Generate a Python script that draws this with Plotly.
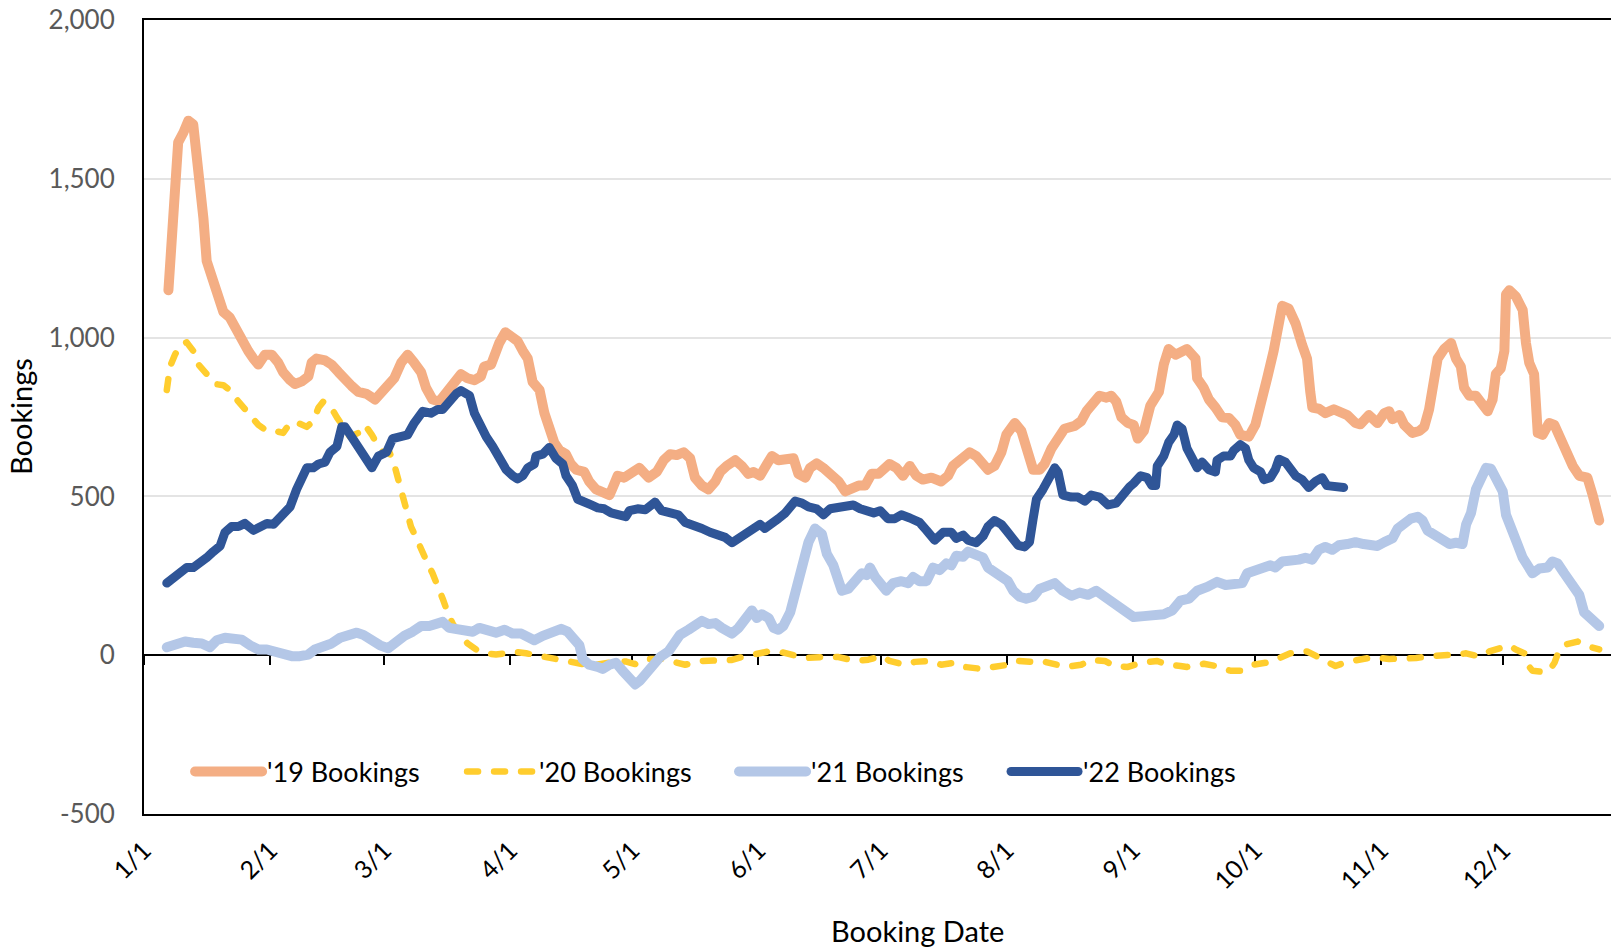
import pandas as pd
import plotly.graph_objects as go

# ---- data (day-of-year offsets from Jan 1) ----
day_19 = [6.0, 6.8, 7.6, 8.4, 9.7, 10.9, 12.1, 13.4, 14.6, 15.4, 16.6, 18.3, 19.5, 21.1, 22.8, 24.4, 25.6, 26.9, 28.1, 29.7,
          31.4, 33.0, 34.2, 35.9, 37.1, 38.8, 40.4, 41.2, 42.4, 44.5, 46.1, 47.8, 49.4, 51.0, 52.7, 54.7, 56.8, 58.0, 59.6, 61.5,
          63.2, 64.8, 66.4, 68.1, 69.3, 70.9, 72.6, 74.2, 76.3, 77.9, 79.5, 81.2, 82.8, 83.6, 85.3, 86.1, 87.3, 88.8, 90.2, 91.8,
          93.1, 94.3, 95.5, 97.2, 98.4, 99.6, 100.8, 102.1, 103.7, 104.9, 106.2, 108.2, 109.4, 111.1, 112.7, 114.4, 115.2, 116.4, 118.0, 119.7,
          121.7, 124.0, 126.0, 127.7, 129.3, 130.9, 132.6, 134.2, 135.4, 137.1, 138.7, 140.4, 141.6, 143.2, 145.3, 146.9, 148.5, 149.8, 151.4, 153.1,
          154.3, 155.9, 157.6, 159.6, 160.8, 162.5, 163.7, 165.3, 166.9, 169.0, 170.7, 172.3, 173.9, 175.6, 177.2, 178.8, 180.5, 183.2, 184.9, 186.5,
          188.2, 189.8, 191.4, 193.5, 195.9, 197.6, 198.8, 200.9, 202.9, 204.5, 205.8, 207.4, 209.0, 210.7, 211.9, 214.0, 215.6, 217.2, 218.5, 220.1,
          221.3, 223.0, 224.6, 226.2, 228.7, 230.3, 231.6, 233.2, 234.8, 236.5, 237.7, 238.9, 240.2, 241.8, 243.2, 244.2, 245.7, 247.3, 249.4, 250.6,
          251.8, 253.5, 255.1, 256.3, 258.4, 258.8, 260.4, 261.7, 263.3, 264.9, 266.6, 268.2, 269.4, 271.5, 273.1, 274.4, 276.0, 277.6, 278.9, 279.7,
          281.3, 283.0, 284.6, 285.8, 286.6, 287.1, 288.7, 290.3, 292.4, 294.0, 295.7, 297.7, 298.9, 301.0, 303.1, 304.8, 306.0, 306.8, 308.5, 309.7,
          311.7, 313.4, 314.6, 315.8, 317.1, 317.9, 319.5, 321.2, 322.4, 323.6, 324.4, 325.7, 327.3, 328.9, 330.2, 331.4, 332.2, 333.4, 334.3, 334.7,
          335.5, 337.1, 338.8, 339.6, 340.4, 341.6, 342.1, 342.5, 343.7, 345.3, 346.6, 348.2, 349.8, 351.1, 352.7, 354.7, 356.0, 357.6]
val_19 = [1149, 1314, 1499, 1615, 1646, 1683, 1671, 1536, 1376, 1241, 1198, 1142, 1081, 1063, 1020, 983, 958, 934, 915, 946,
          946, 921, 891, 866, 854, 862, 878, 921, 934, 928, 915, 891, 866, 848, 829, 823, 805, 823, 835, 872,
          921, 946, 921, 891, 842, 805, 799, 823, 860, 885, 872, 866, 878, 909, 915, 946, 983, 1017, 1001, 989,
          958, 934, 860, 835, 762, 713, 670, 645, 633, 602, 584, 577, 547, 522, 516, 504, 528, 565, 559, 577,
          590, 559, 577, 614, 633, 630, 639, 620, 559, 534, 522, 547, 577, 596, 614, 596, 571, 577, 565, 602,
          627, 614, 620, 620, 571, 559, 590, 604, 590, 571, 547, 516, 526, 534, 534, 571, 571, 602, 590, 565,
          596, 565, 553, 559, 547, 565, 596, 614, 639, 627, 602, 584, 596, 639, 694, 731, 706, 633, 584, 584,
          602, 651, 688, 713, 722, 737, 768, 799, 817, 811, 817, 799, 749, 731, 725, 682, 706, 786, 829, 915,
          964, 946, 952, 964, 934, 872, 842, 805, 780, 749, 747, 725, 694, 688, 725, 780, 872, 958, 1063, 1100,
          1091, 1044, 977, 934, 829, 780, 776, 762, 774, 762, 756, 731, 727, 756, 731, 762, 768, 743, 756, 725,
          700, 706, 719, 774, 885, 934, 964, 983, 934, 909, 842, 817, 817, 792, 768, 805, 885, 903, 958, 1136,
          1149, 1130, 1087, 983, 921, 885, 786, 700, 694, 731, 725, 676, 633, 596, 565, 559, 504, 424]

day_20 = [5.6, 6.4, 7.6, 8.9, 10.5, 12.1, 13.4, 14.6, 15.8, 17.5, 19.5, 21.1, 22.8, 24.4, 26.1, 28.1, 30.2, 32.2, 34.2, 35.9,
          37.9, 40.0, 41.6, 42.9, 44.1, 45.7, 47.4, 49.0, 50.6, 52.7, 54.3, 56.0, 57.6, 59.2, 60.3, 61.5, 62.3, 63.2, 64.4, 65.6,
          66.9, 68.5, 69.7, 70.9, 72.2, 73.4, 74.6, 75.9, 77.5, 79.5, 81.6, 84.1, 86.5, 89.0, 91.4, 93.9, 96.3, 98.8, 101.2, 103.7,
          106.2, 108.6, 111.1, 113.5, 116.8, 118.5, 120.7, 122.5, 124.0, 127.3, 130.5, 133.0, 137.1, 140.4, 144.5, 146.9, 150.2, 153.5, 155.9, 159.2,
          162.5, 166.6, 170.7, 174.8, 178.0, 181.3, 183.2, 186.9, 189.4, 193.1, 195.9, 199.2, 201.7, 205.8, 208.2, 212.3, 214.8, 218.1, 220.5, 224.6,
          226.6, 230.3, 232.8, 236.1, 238.5, 241.8, 244.9, 249.0, 251.4, 254.7, 256.3, 260.4, 263.3, 267.0, 269.4, 272.7, 275.6, 278.5, 281.7, 285.8,
          287.5, 290.7, 292.8, 295.7, 298.9, 302.2, 306.0, 309.3, 312.6, 315.8, 319.1, 322.4, 324.9, 328.1, 330.6, 333.4, 335.5, 337.1, 339.2, 340.0,
          341.2, 343.3, 345.3, 346.6, 347.8, 349.4, 352.3, 355.1, 357.6]
val_20 = [835, 909, 946, 977, 985, 958, 915, 897, 872, 854, 850, 835, 805, 780, 749, 725, 706, 706, 700, 731,
          731, 719, 737, 780, 799, 786, 749, 719, 688, 700, 725, 694, 657, 633, 640, 600, 565, 516, 455, 405,
          369, 319, 289, 258, 221, 178, 135, 98, 68, 37, 18, 6, 2, 6, 10, 6, 0, -6, -12, -18,
          -24, -30, -30, -24, -18, -20, -28, -15, -12, -12, -24, -30, -18, -15, -15, -6, 2, 12, 12, 4,
          -9, -6, -6, -18, -14, -3, -18, -30, -21, -18, -30, -24, -37, -43, -37, -30, -18, -21, -18, -30,
          -37, -30, -15, -18, -34, -37, -24, -18, -30, -34, -37, -27, -34, -49, -49, -30, -24, -12, 6, 12,
          0, -21, -34, -21, -12, -6, -12, -12, -9, -3, -3, 2, 6, -4, 12, 25, 31, 18, 6, -30,
          -49, -52, -49, -24, 18, 34, 43, 27, 18]

day_21 = [5.6, 8.0, 10.1, 12.1, 14.2, 16.2, 17.9, 19.9, 22.0, 24.0, 26.1, 28.1, 30.2, 32.2, 34.2, 36.3, 38.3, 40.4, 42.0, 44.1,
          46.1, 48.2, 50.2, 52.3, 53.9, 56.0, 58.0, 60.0, 61.9, 64.0, 66.0, 68.1, 70.1, 71.8, 73.4, 75.0, 77.1, 79.1, 80.8, 82.4,
          84.5, 86.5, 88.6, 90.6, 92.7, 94.3, 95.9, 98.0, 100.4, 102.5, 104.1, 105.8, 107.0, 107.8, 109.4, 111.5, 112.7, 114.4, 116.0, 117.6,
          119.3, 120.7, 121.9, 123.6, 125.2, 126.8, 128.9, 130.5, 131.7, 133.8, 135.4, 137.1, 138.7, 140.4, 142.0, 144.5, 146.1, 147.7, 149.4, 150.6,
          151.8, 153.5, 154.7, 155.9, 157.1, 158.8, 160.0, 161.7, 163.3, 164.9, 166.6, 167.8, 169.4, 170.7, 171.5, 173.1, 174.8, 176.4, 177.6, 178.4,
          179.7, 181.3, 182.4, 184.1, 186.1, 187.8, 189.0, 190.6, 192.3, 193.9, 195.5, 197.2, 198.4, 199.6, 201.3, 202.5, 204.5, 206.2, 207.4, 209.0,
          210.7, 212.3, 213.6, 215.2, 216.8, 218.5, 220.1, 222.2, 223.8, 225.8, 227.9, 229.9, 232.0, 234.0, 236.1, 237.7, 239.8, 241.8, 243.2, 245.7,
          248.2, 250.6, 252.7, 254.7, 256.8, 258.8, 261.3, 263.7, 265.8, 267.8, 269.9, 271.1, 273.1, 275.2, 276.8, 278.0, 279.7, 281.7, 283.8, 285.4,
          287.1, 288.7, 290.3, 292.0, 293.6, 295.7, 297.7, 299.7, 301.1, 303.1, 304.8, 306.8, 308.1, 309.7, 311.3, 313.0, 314.2, 315.4, 317.1, 318.7,
          320.8, 322.4, 324.0, 324.9, 326.1, 327.3, 328.5, 329.8, 331.0, 332.6, 333.9, 334.7, 335.9, 337.5, 338.8, 340.0, 341.2, 342.9, 344.9, 346.1,
          347.4, 349.0, 351.1, 352.7, 353.9, 355.6, 357.6]
val_21 = [25, 31, 43, 39, 37, 25, 47, 55, 55, 49, 31, 18, 18, 12, 0, -3, -3, 2, 18, 27,
          37, 55, 61, 71, 64, 43, 31, 22, 43, 61, 74, 92, 92, 101, 105, 86, 80, 77, 74, 86,
          74, 71, 80, 68, 68, 55, 47, 61, 74, 83, 74, 49, 31, -12, -30, -37, -43, -30, -24, -49,
          -80, -92, -80, -55, -30, -6, 12, 39, 64, 80, 92, 108, 98, 101, 86, 68, 86, 117, 141, 117,
          129, 117, 86, 80, 92, 135, 197, 276, 356, 399, 381, 319, 283, 233, 203, 209, 240, 258, 252, 276,
          246, 220, 203, 227, 233, 227, 246, 233, 233, 276, 268, 289, 283, 313, 310, 326, 319, 307, 276, 264,
          246, 233, 203, 184, 178, 184, 209, 224, 227, 203, 187, 197, 190, 203, 184, 162, 147, 129, 120, 123,
          125, 129, 141, 172, 178, 203, 215, 231, 221, 224, 227, 258, 270, 276, 283, 276, 295, 295, 301, 307,
          301, 332, 341, 332, 346, 350, 356, 350, 346, 344, 356, 368, 399, 418, 430, 436, 424, 393, 381, 368,
          350, 354, 350, 412, 448, 522, 565, 590, 587, 553, 516, 442, 393, 350, 307, 276, 258, 273, 276, 295,
          289, 258, 221, 190, 135, 117, 92]

day_22 = [5.6, 7.2, 8.9, 10.5, 12.1, 13.8, 15.4, 17.0, 18.7, 19.9, 21.5, 23.2, 24.8, 26.9, 28.5, 30.2, 31.8, 33.4, 35.9, 37.5,
          38.8, 40.0, 41.6, 42.9, 44.5, 45.7, 47.4, 48.6, 49.4, 51.0, 53.1, 54.7, 56.0, 57.6, 59.6, 61.1, 63.6, 64.8, 66.4, 68.5,
          70.5, 72.2, 73.4, 75.0, 76.7, 77.9, 80.0, 81.2, 82.4, 84.1, 85.7, 87.3, 89.0, 90.6, 91.8, 93.1, 94.3, 95.9, 96.3, 98.0,
          99.6, 101.2, 102.9, 103.7, 105.3, 106.6, 108.2, 109.9, 111.5, 113.1, 114.8, 116.8, 118.4, 119.3, 121.3, 123.2, 125.6, 127.2, 129.7, 131.3,
          133.0, 135.0, 137.1, 139.1, 141.2, 142.8, 144.5, 146.1, 148.1, 149.8, 151.4, 152.6, 154.3, 155.9, 157.6, 158.8, 160.0, 161.7, 163.3, 165.3,
          167.0, 168.6, 170.7, 172.3, 174.3, 176.0, 178.0, 179.3, 180.9, 182.8, 184.5, 186.1, 188.2, 190.6, 192.3, 194.3, 196.4, 198.4, 199.6, 201.3,
          202.5, 204.5, 206.2, 207.4, 209.0, 210.7, 211.9, 213.6, 214.8, 216.4, 217.6, 218.5, 219.3, 220.9, 222.2, 223.8, 224.6, 225.8, 227.9, 229.5,
          231.2, 232.8, 234.8, 236.9, 238.9, 240.6, 242.2, 243.2, 244.9, 246.5, 247.7, 248.6, 249.0, 250.6, 251.8, 253.1, 253.9, 255.1, 256.3, 257.6,
          258.8, 260.0, 261.7, 263.3, 263.7, 265.3, 267.0, 267.8, 269.4, 270.7, 271.5, 272.7, 274.4, 275.2, 276.8, 278.0, 278.9, 280.5, 281.7, 283.0,
          284.6, 286.2, 287.9, 289.5, 290.7, 292.8, 294.8]
val_22 = [227, 246, 264, 276, 276, 289, 307, 326, 344, 387, 405, 405, 415, 393, 405, 415, 412, 436, 467, 522,
          559, 590, 590, 602, 608, 639, 657, 719, 719, 688, 645, 608, 590, 627, 639, 682, 694, 694, 731, 768,
          762, 774, 774, 799, 823, 833, 817, 762, 725, 688, 657, 620, 584, 565, 555, 565, 590, 602, 627, 633,
          654, 620, 602, 565, 534, 491, 479, 473, 464, 461, 448, 442, 436, 455, 461, 458, 482, 455, 448, 442,
          418, 412, 399, 387, 381, 371, 354, 368, 381, 399, 412, 399, 412, 430, 448, 467, 485, 479, 467, 461,
          442, 461, 467, 473, 473, 461, 455, 448, 455, 430, 430, 442, 432, 418, 393, 362, 387, 387, 368, 378,
          362, 354, 375, 405, 424, 412, 393, 362, 346, 341, 356, 430, 491, 522, 553, 590, 577, 504, 498, 498,
          485, 504, 498, 473, 479, 510, 530, 541, 565, 559, 534, 534, 596, 627, 670, 694, 725, 713, 651, 620,
          590, 608, 584, 577, 614, 627, 627, 645, 663, 651, 614, 590, 577, 553, 559, 584, 617, 608, 584, 565,
          553, 528, 547, 559, 534, 534, 528]

series_names = ["'19 Bookings", "'20 Bookings", "'21 Bookings", "'22 Bookings"]
month_ticks = ["2022-%02d-01" % m for m in range(1, 13)]
month_labels = ["%d/1" % m for m in range(1, 13)]
y_ticks = [-500, 0, 500, 1000, 1500, 2000]
y_labels = ["-500", "0", "500", "1,000", "1,500", "2,000"]

base = pd.Timestamp("2022-01-01")


def to_dates(days):
    return [base + pd.Timedelta(days=d) for d in days]


FONT = "Lato, 'Open Sans', sans-serif"
x_range = [base, base + pd.Timedelta(days=360.5)]

fig = go.Figure()
fig.add_trace(go.Scatter(x=to_dates(day_19), y=val_19, name=series_names[0], mode="lines",
                         line=dict(color="#F4AE84", width=10)))
fig.add_trace(go.Scatter(x=to_dates(day_20), y=val_20, name=series_names[1], mode="lines",
                         line=dict(color="#FFCD2E", width=6.5, dash="11px,16px")))
fig.add_trace(go.Scatter(x=to_dates(day_21), y=val_21, name=series_names[2], mode="lines",
                         line=dict(color="#B4C7E7", width=10)))
fig.add_trace(go.Scatter(x=to_dates(day_22), y=val_22, name=series_names[3], mode="lines",
                         line=dict(color="#2F5597", width=9)))
# helper trace so the zero-line tick axis is drawn
fig.add_trace(go.Scatter(x=[base], y=[None], xaxis="x2", showlegend=False, hoverinfo="skip"))

fig.update_layout(
    width=1611, height=948,
    margin=dict(l=144, r=0, t=20, b=134),
    paper_bgcolor="white", plot_bgcolor="white",
    font=dict(family=FONT, color="black"),
    xaxis=dict(range=x_range, tickvals=month_ticks, ticktext=month_labels, tickangle=-45,
               showgrid=False, zeroline=False, ticks="", showline=True, mirror=True,
               linecolor="black", linewidth=2, tickfont=dict(size=25, color="black"),
               ticklabelstandoff=10),
    xaxis2=dict(overlaying="x", anchor="free", position=0.2, range=x_range, tickvals=month_ticks,
                showticklabels=False, ticks="outside", ticklen=9, tickwidth=2, tickcolor="black",
                showline=True, linecolor="black", linewidth=2, showgrid=False, zeroline=False,
                layer="below traces"),
    yaxis=dict(range=[-500, 2000], tickvals=y_ticks, ticktext=y_labels, showgrid=True, gridcolor="#E4E4E4",
               gridwidth=1.5, zeroline=False, showline=True, linecolor="black", linewidth=2,
               ticks="", tickfont=dict(size=26, color="#595959"), ticklabelstandoff=22),
    legend=dict(orientation="h", x=0.0314, xanchor="left", y=0.053, yanchor="middle",
                font=dict(size=27, color="black"), itemwidth=67, bgcolor="rgba(0,0,0,0)",
                entrywidth=190, entrywidthmode="pixels"),
    annotations=[
        dict(text="Booking Date", xref="paper", yref="paper", x=0.5276, y=-0.147, xanchor="center",
             yanchor="middle", showarrow=False, font=dict(size=29, color="black")),
        dict(text="Bookings", xref="paper", yref="paper", x=-0.0845, y=0.5, xanchor="center",
             yanchor="middle", textangle=-90, showarrow=False, font=dict(size=29, color="black")),
    ],
)

post = ("document.body.style.margin='0px';"
        "document.querySelectorAll('path.js-line, .legendlines path').forEach(function(p){"
        "p.style.strokeLinejoin='round';p.style.strokeLinecap='round';});")
fig.write_html("out.html", post_script=post, config={"displayModeBar": False})
